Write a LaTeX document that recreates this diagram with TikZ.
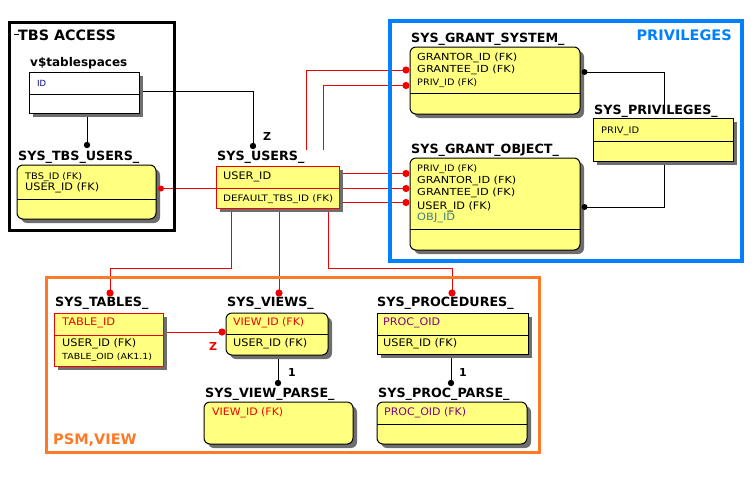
\documentclass[tikz,border=0pt]{standalone}
\usepackage{fontspec}
\usepackage{graphicx}
\setmainfont{DejaVu Sans}
\usetikzlibrary{shadows,backgrounds}
\definecolor{ety}{RGB}{255,255,128}
\definecolor{shd}{RGB}{110,110,110}
\definecolor{rd}{RGB}{240,0,0}
\definecolor{bl}{RGB}{0,128,255}
\definecolor{orn}{RGB}{255,122,40}
\definecolor{prp}{RGB}{128,0,128}
\definecolor{tea}{RGB}{64,128,128}
\definecolor{nav}{RGB}{0,0,140}
\newcommand{\fsz}[1]{\fontsize{#1}{#1}\selectfont}
\newlength{\rwl}
% #1 font size, #2 target width (pt), #3 text
\newcommand{\rw}[3]{\settowidth{\rwl}{\fsz{#1}#3}\pgfmathsetmacro{\rwsx}{#2/\rwl}\scalebox{\rwsx}[1]{\fsz{#1}#3}}
\begin{document}
\begin{tikzpicture}[x=1pt,y=-1pt,
  ent/.style={draw=black,fill=ety,line width=1pt,inner sep=0pt,outer sep=0pt,anchor=north west,
     drop shadow={shadow xshift=4pt,shadow yshift=-4pt,fill=shd,opacity=1}},
  sz/.style 2 args={minimum width=#1pt,minimum height=#2pt},
  rnd/.style={rounded corners=6pt},
  ttl/.style={anchor=west,inner sep=0pt,font=\bfseries\fsz{12.7}},
  row/.style={anchor=west,inner sep=0pt},
  rline/.style={draw=rd,line width=0.9pt},
  bline/.style={draw=black,line width=0.9pt},
  divl/.style={line width=1pt},
  frame/.style={line width=3pt},
  rdot/.style={fill=rd},
  bdot/.style={fill=black},
  card/.style={inner sep=0pt,font=\bfseries\fsz{11}},
]
\useasboundingbox (0,0) rectangle (754,480);

% ---------------- TBS ACCESS ----------------
\node[ent,sz={110}{41},fill=white] (vts) at (29,72) {};
\node[ttl,font=\bfseries\fsz{12}] (vtsL) at (30,63) {v\$tablespaces};
\draw[divl] (vts.west |- 0,94) -- (vts.east |- 0,94);
\node[row,text=nav] (vtsA) at (37,83) {\rw{8.5}{9}{ID}};

\node[ent,rnd,sz={139}{54}] (tbsu) at (17,165) {};
\node[ttl] (tbsuL) at (18,157) {SYS\_TBS\_USERS\_};
\draw[divl] (tbsu.west |- 0,199) -- (tbsu.east |- 0,199);
\node[row] (tbsuA) at (25,177) {\rw{9}{57}{TBS\_ID (FK)}};
\node[row] (tbsuB) at (25,188) {\rw{10.3}{74}{USER\_ID (FK)}};

% ---------------- SYS_USERS ----------------
\node[ent,draw=rd,sz={123}{42}] (usr) at (216,166) {};
\node[ttl] (usrL) at (217,157) {SYS\_USERS\_};
\draw[divl,draw=rd] (usr.west |- 0,188) -- (usr.east |- 0,188);
\node[row] (usrA) at (223,177) {\rw{10.4}{48}{USER\_ID}};
\node[row] (usrB) at (223,199) {\rw{8.9}{110}{DEFAULT\_TBS\_ID (FK)}};

% ---------------- PRIVILEGES ----------------
\node[ent,rnd,sz={170}{67}] (gsy) at (410,47) {};
\node[ttl] (gsyL) at (411,39) {SYS\_GRANT\_SYSTEM\_};
\draw[divl] (gsy.west |- 0,93) -- (gsy.east |- 0,93);
\node[row] (gsyA) at (417,58) {\rw{9.8}{100}{GRANTOR\_ID (FK)}};
\node[row] (gsyB) at (417,69.5) {\rw{9.7}{98}{GRANTEE\_ID (FK)}};
\node[row] (gsyC) at (417,83) {\rw{8.9}{60}{PRIV\_ID (FK)}};

\node[ent,sz={140}{43}] (prv) at (593,118) {};
\node[ttl] (prvL) at (594,111) {SYS\_PRIVILEGES\_};
\draw[divl] (prv.west |- 0,141) -- (prv.east |- 0,141);
\node[row] (prvA) at (601,131) {\rw{9}{38}{PRIV\_ID}};

\node[ent,rnd,sz={170}{92}] (gob) at (410,158) {};
\node[ttl] (gobL) at (411,150) {SYS\_GRANT\_OBJECT\_};
\draw[divl] (gob.west |- 0,229) -- (gob.east |- 0,229);
\node[row] (gobA) at (417,169) {\rw{8.9}{60}{PRIV\_ID (FK)}};
\node[row] (gobB) at (417,181) {\rw{9.7}{99}{GRANTOR\_ID (FK)}};
\node[row] (gobC) at (417,193) {\rw{9.7}{98}{GRANTEE\_ID (FK)}};
\node[row] (gobD) at (417,206.5) {\rw{10.3}{74}{USER\_ID (FK)}};
\node[row,text=tea] (gobE) at (417,218) {\rw{10}{38}{OBJ\_ID}};

% ---------------- PSM,VIEW ----------------
\node[ent,draw=rd,sz={109}{53}] (tab) at (54,313) {};
\node[ttl] (tabL) at (55,303) {SYS\_TABLES\_};
\draw[divl,draw=rd] (tab.west |- 0,335) -- (tab.east |- 0,335);
\node[row,text=rd] (tabA) at (62,323) {\rw{10.4}{53}{TABLE\_ID}};
\node[row] (tabB) at (62,344) {\rw{10.4}{74}{USER\_ID (FK)}};
\node[row] (tabC) at (62,357) {\rw{8.4}{90}{TABLE\_OID (AK1.1)}};

\node[ent,rnd,sz={102}{42}] (vw) at (226,313) {};
\node[ttl] (vwL) at (227,303) {SYS\_VIEWS\_};
\draw[divl] (vw.west |- 0,334) -- (vw.east |- 0,334);
\node[row,text=rd] (vwA) at (233,323) {\rw{10.3}{71}{VIEW\_ID (FK)}};
\node[row] (vwB) at (233,344) {\rw{10.4}{74}{USER\_ID (FK)}};

\node[ent,sz={151}{41}] (prc) at (377,313) {};
\node[ttl] (prcL) at (377,303) {SYS\_PROCEDURES\_};
\draw[divl] (prc.west |- 0,335) -- (prc.east |- 0,335);
\node[row,text=prp] (prcA) at (383,323) {\rw{10.4}{57}{PROC\_OID}};
\node[row] (prcB) at (383,344) {\rw{10.4}{74}{USER\_ID (FK)}};

\node[ent,rnd,sz={149}{42}] (vp) at (204,402) {};
\node[ttl] (vpL) at (205,394) {SYS\_VIEW\_PARSE\_};
\node[row,text=rd] (vpA) at (212,413) {\rw{10.3}{71}{VIEW\_ID (FK)}};

\node[ent,rnd,sz={150}{42}] (pp) at (377,402) {};
\node[ttl] (ppL) at (378,394) {SYS\_PROC\_PARSE\_};
\draw[divl] (pp.west |- 0,424) -- (pp.east |- 0,424);
\node[row,text=prp] (ppA) at (384,413) {\rw{10.4}{82}{PROC\_OID (FK)}};

% ---------------- connector points ----------------
\coordinate (k1) at (253,91);
\coordinate (d1) at (253,146);
\coordinate (d2) at (87,145);
\coordinate (d3) at (161,188.5);
\coordinate (k4a) at (306,150);
\coordinate (k4b) at (306,70);
\coordinate (d4) at (406,70);
\coordinate (k5a) at (323,150);
\coordinate (k5b) at (323,85.5);
\coordinate (d5) at (406,85.5);
\coordinate (d6) at (406,173.5);
\coordinate (d7) at (406,188.5);
\coordinate (d8) at (406,202.5);
\coordinate (k9) at (664,72);
\coordinate (k9b) at (664,105);
\coordinate (d9) at (584.5,72);
\coordinate (k10) at (664,207);
\coordinate (d10) at (584.5,207);
\coordinate (k11a) at (231,268);
\coordinate (k11b) at (110,268);
\coordinate (d11) at (110,293);
\coordinate (d12) at (279,293);
\coordinate (k13a) at (328,268);
\coordinate (k13b) at (452,268);
\coordinate (d13) at (452,293);
\coordinate (d14) at (222,332);
\coordinate (d15) at (278,383);
\coordinate (d16) at (451,383);

\begin{scope}[on background layer]
  \draw[bline] (vts.east |- k1) -- (k1) -- (d1);
  \draw[bline] (vts.south -| d2) -- (d2);
  \draw[rline] (d3) -- (usr.west |- d3);
  \draw[rline] (k4a) -- (k4b) -- (d4);
  \draw[rline] (k5a) -- (k5b) -- (d5);
  \draw[rline] (usr.east |- d6) -- (d6);
  \draw[rline] (usr.east |- d7) -- (d7);
  \draw[rline] (usr.east |- d8) -- (d8);
  \draw[bline] (gsy.east |- k9) -- (k9) -- (k9b);
  \draw[bline] (prv.south -| k10) -- (k10) -- (gob.east |- k10);
  \draw[rline] (usr.south -| k11a) -- (k11a) -- (k11b) -- (d11);
  \draw[rline] (usr.south -| d12) -- (d12);
  \draw[rline] (usr.south -| k13a) -- (k13a) -- (k13b) -- (d13);
  \draw[rline] (tab.east |- d14) -- (d14);
  \draw[bline] (vw.south -| d15) -- (d15);
  \draw[bline] (prc.south -| d16) -- (d16);
\end{scope}

% dots
\fill[bdot] (d1) circle[radius=3.2pt];
\fill[bdot] (d2) circle[radius=3.2pt];
\fill[rdot] (d3) circle[radius=3pt];
\fill[rdot] (d4) circle[radius=3.6pt];
\fill[rdot] (d5) circle[radius=3.6pt];
\fill[rdot] (d6) circle[radius=3.6pt];
\fill[rdot] (d7) circle[radius=3.6pt];
\fill[rdot] (d8) circle[radius=3.6pt];
\fill[bdot] (d9) circle[radius=3pt];
\fill[bdot] (d10) circle[radius=3pt];
\fill[rdot] (d11) circle[radius=3.6pt];
\fill[rdot] (d12) circle[radius=3.6pt];
\fill[rdot] (d13) circle[radius=3.6pt];
\fill[rdot] (d14) circle[radius=3.6pt];
\fill[bdot] (d15) circle[radius=3.2pt];
\fill[bdot] (d16) circle[radius=3.2pt];

% cardinality labels
\node[card] (z1) at (267,136) {Z};
\node[card,text=rd] (z2) at (213,346) {Z};
\node[card] (o1) at (292,372) {1};
\node[card] (o2) at (463,372) {1};

% frames
\draw[frame] (9.5,22.5) rectangle (174.5,230.5);
\draw[line width=1pt] (14,34) -- (19,34);
\node[anchor=west,inner sep=0pt,font=\bfseries\fsz{14.3}] (tbsT) at (18,35) {TBS ACCESS};

\draw[frame,line width=4pt,draw=bl] (390,21) rectangle (741.5,260.5);
\node[anchor=east,inner sep=0pt,font=\bfseries\fsz{14.5},text=bl] (prvT) at (732,35) {PRIVILEGES};

\draw[frame,draw=orn] (46.3,277.5) rectangle (539.5,452.5);
\node[anchor=west,inner sep=0pt,font=\bfseries\fsz{14.5},text=orn] (psmT) at (53,440) {PSM,VIEW};
\end{tikzpicture}
\end{document}
